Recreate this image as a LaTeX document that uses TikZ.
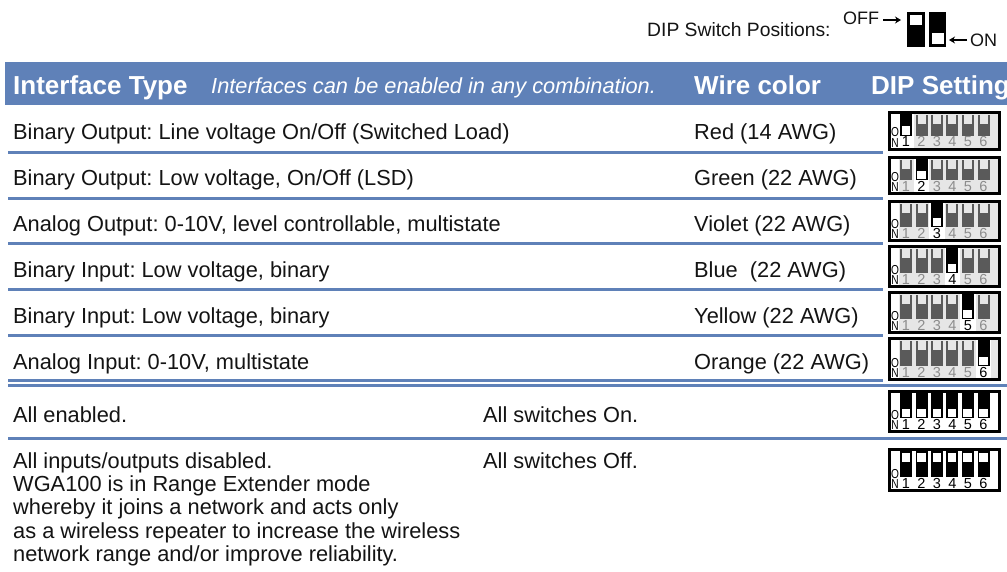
\documentclass[tikz,border=0pt]{standalone}
\usepackage{fontspec}
\usetikzlibrary{arrows.meta}
\setmainfont{Liberation Sans}
\definecolor{hdr}{HTML}{5F81B8}
\definecolor{slotgrey}{HTML}{5A5A5A}
\definecolor{pale}{HTML}{E6E6E6}
\definecolor{numgrey}{HTML}{8C8C8C}
\tikzset{
  x=1pt,y=-1pt,
  rowtext/.style={anchor=base west,inner sep=0pt,font=\frenchspacing\fontsize{21.8}{24}\selectfont,text=black!92},
  hdrbold/.style={anchor=base west,inner sep=0pt,font=\fontsize{26}{30}\bfseries\selectfont,text=white},
  hdrital/.style={anchor=base west,inner sep=0pt,font=\fontsize{21.8}{26}\itshape\selectfont,text=white},
  legend/.style={anchor=base west,inner sep=0pt,font=\fontsize{19.3}{23}\selectfont,text=black!92},
  legendsm/.style={anchor=base west,inner sep=0pt,font=\fontsize{18}{22}\selectfont,text=black!92},
  rulemark/.style={draw=hdr,line width=3pt},
  arrowline/.style={draw=black,line width=1.2pt,-{Stealth[length=6pt,width=7pt]}},
  swnum/.style={anchor=base,inner sep=0pt,font=\fontsize{14.5}{15}\selectfont},
  onlabel/.style={anchor=base,inner sep=0pt,xscale=.78,font=\fontsize{13}{13}\selectfont,text=black},
}
% #1 name, #2 top y, #3 bottom y, #4 active switch (0 = none: all black), #5 all-on flag: 1 on, 0 off
\newcommand{\dipbox}[5]{%
  \fill[black] (888,#2) rectangle (1001,#3);
  \fill[white] (891,#2+2.8) rectangle (998,#3-2.8);
  \ifnum#4>0
    \fill[pale] (899,#2+2.8) rectangle (998,#3-2.8);
  \fi
  \foreach \i/\cx in {1/906,2/921.5,3/937,4/952.4,5/967.8,6/983.5}{%
    \ifnum#4=0
      \fill[black] (\cx-6,#2+2.8) rectangle (\cx+6,#3-15);
      \ifnum#5=1
        \fill[white] (\cx-4.5,#3-24.5) rectangle (\cx+4,#3-16);
      \else
        \fill[white] (\cx-4.5,#2+5) rectangle (\cx+4,#2+13.5);
      \fi
      \node[swnum,text=black] (#1n\i) at (\cx,#3-4) {\i};
    \else
      \ifnum\i=#4
        \fill[white] (\cx-7.7,#2+2.8) rectangle (\cx+7.7,#3-2.8);
        \fill[black] (\cx-6,#2+2.8) rectangle (\cx+6,#3-15);
        \fill[white] (\cx-4.5,#3-24.5) rectangle (\cx+4,#3-16);
        \node[swnum,text=black] (#1n\i) at (\cx,#3-4) {\i};
      \else
        \fill[slotgrey] (\cx-6,#2+3.5) rectangle (\cx+6,#3-15);
        \fill[pale] (\cx-4,#2+3.5) rectangle (\cx+4,#2+12.5);
        \node[swnum,text=numgrey] (#1n\i) at (\cx,#3-4) {\i};
      \fi
    \fi
  }
  \node[onlabel] (#1o) at (895,#3-13.7) {O};
  \node[onlabel] (#1on) at (895,#3-3.5) {N};
}
\begin{document}
\begin{tikzpicture}
\useasboundingbox (0,0) rectangle (1007,571);
\fill[white] (0,0) rectangle (1007,571);

% legend
\node[legend] (dippos) at (647,36.5) {DIP Switch Positions:};
\node[legendsm] (off) at (843,24.5) {OFF};
\node[legendsm] (on) at (970,46.5) {ON};
\fill[black] (907,11.5) rectangle (924.5,46.5);
\fill[white] (910,14.5) rectangle (921.5,24.5);
\fill[black] (928.5,11.5) rectangle (946,46.5);
\fill[white] (932,32.5) rectangle (943.5,44);
\coordinate (offtip) at (901,20);
\coordinate (ontip) at (949,40);
\coordinate (offtail) at (883,20);
\coordinate (ontail) at (967,40);
\draw[arrowline] (offtail) -- (offtip);
\draw[arrowline] (ontail) -- (ontip);

% header
\fill[hdr] (5,62) rectangle (1007,105);
\begin{scope}
\clip (0,0) rectangle (1007,571);
\node[hdrbold] (h1) at (13,94) {Interface Type};
\node[hdrital] (h2) at (211,93) {Interfaces can be enabled in any combination.};
\node[hdrbold] (h3) at (694,94) {Wire color};
\node[hdrbold] (h4) at (871,94) {DIP Setting};
\end{scope}

% rules
\foreach \yy in {152.5,198.5,243.5,289.5,335.5,380.5}{\draw[rulemark] (8,\yy) -- (883,\yy);}
\draw[rulemark] (8,385.5) -- (1007,385.5);
\draw[rulemark] (8,438.5) -- (1007,438.5);

% rows
\node[rowtext] (r1) at (13,139.5) {Binary Output: Line voltage On/Off (Switched Load)};
\node[rowtext] (w1) at (694,139.5) {Red (14 AWG)};
\node[rowtext] (r2) at (13,185) {Binary Output: Low voltage, On/Off (LSD)};
\node[rowtext] (w2) at (694,185) {Green (22 AWG)};
\node[rowtext] (r3) at (13,231) {Analog Output: 0-10V, level controllable, multistate};
\node[rowtext] (w3) at (694,231) {Violet (22 AWG)};
\node[rowtext] (r4) at (13,277) {Binary Input: Low voltage, binary};
\node[rowtext] (w4) at (694,277) {Blue\ \ (22 AWG)};
\node[rowtext] (r5) at (13,323) {Binary Input: Low voltage, binary};
\node[rowtext] (w5) at (694,323) {Yellow (22 AWG)};
\node[rowtext] (r6) at (13,369) {Analog Input: 0-10V, multistate};
\node[rowtext] (w6) at (694,369) {Orange (22 AWG)};

\node[rowtext] (a1) at (13,422) {All enabled.};
\node[rowtext] (a2) at (483,422) {All switches On.};
\node[rowtext,anchor=north west,align=left,font=\frenchspacing\fontsize{21.8}{23.4}\selectfont] (b1) at (13,452) {All inputs/outputs disabled.\\WGA100 is in Range Extender mode\\whereby it joins a network and acts only\\as a wireless repeater to increase the wireless\\network range and/or improve reliability.};
\node[rowtext] (b2) at (483,468) {All switches Off.};

% DIP switches
\dipbox{d1}{111}{150.5}{1}{0}
\dipbox{d2}{156}{195}{2}{0}
\dipbox{d3}{200}{242}{3}{0}
\dipbox{d4}{245}{288}{4}{0}
\dipbox{d5}{291}{334}{5}{0}
\dipbox{d6}{337}{381}{6}{0}
\dipbox{d7}{390}{433}{0}{1}
\dipbox{d8}{448}{492}{0}{0}
\end{tikzpicture}
\end{document}
